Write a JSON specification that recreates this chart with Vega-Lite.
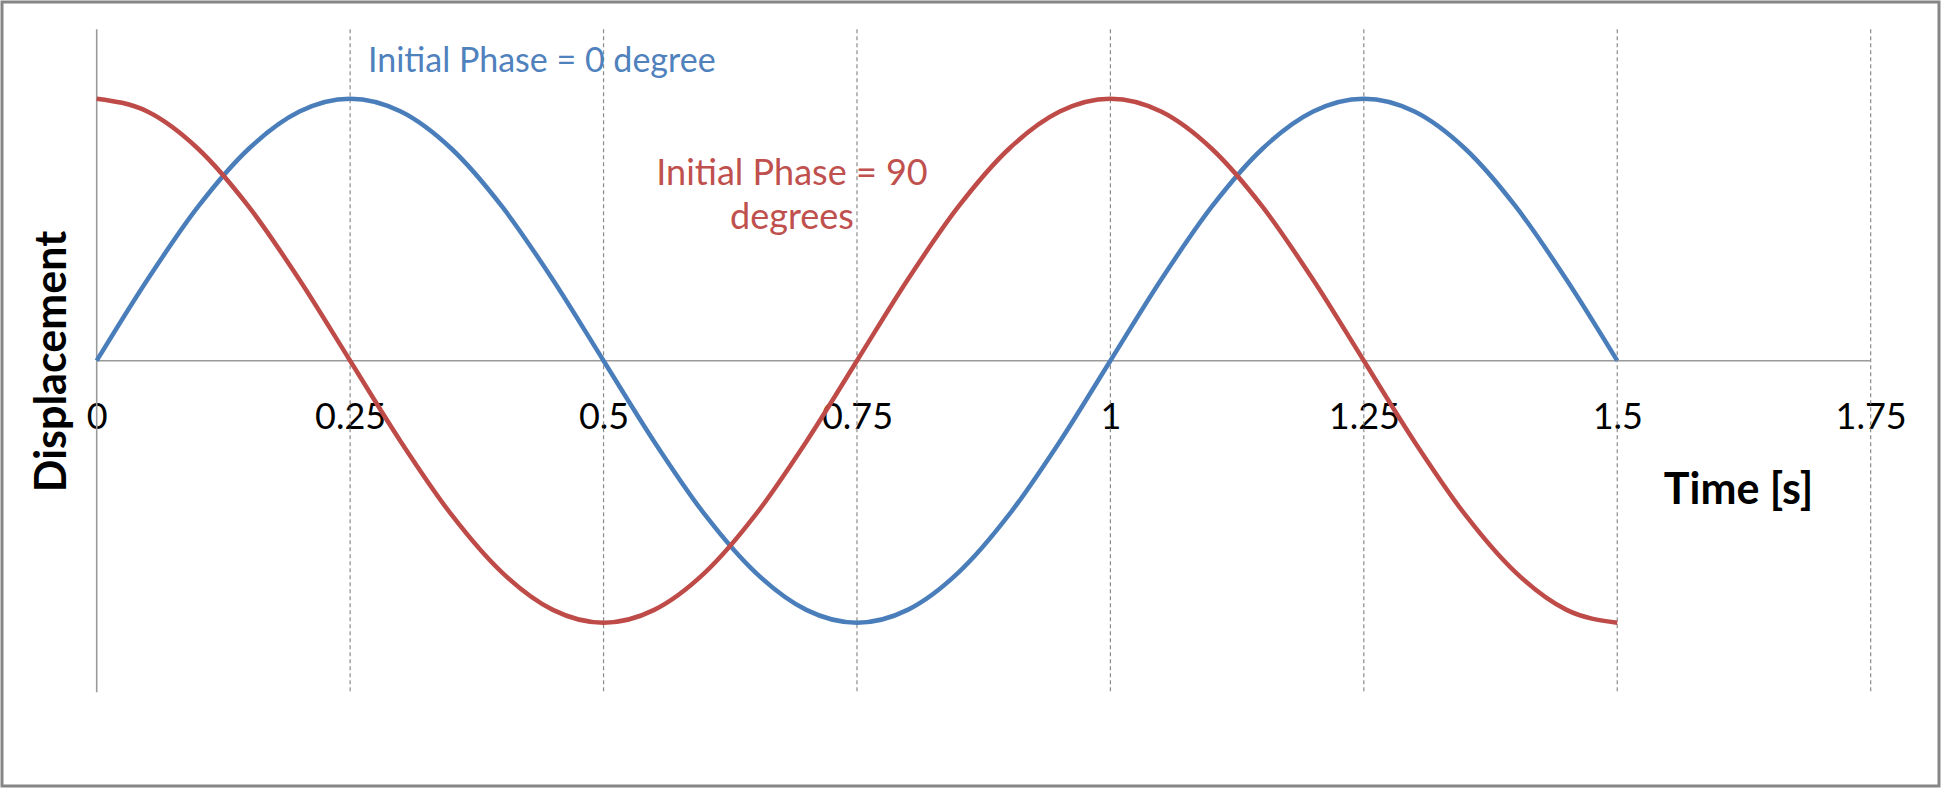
{
  "$schema": "https://vega.github.io/schema/vega-lite/v6.json",
  "width": 1937,
  "height": 784,
  "autosize": "none",
  "padding": {"left": 2, "top": 2, "right": 2, "bottom": 3},
  "background": "white",
  "config": {"view": {"stroke": "#868686", "strokeWidth": 3}, "font": "Lato"},
  "datasets": {
    "grid": [{"t": 0.25}, {"t": 0.5}, {"t": 0.75}, {"t": 1}, {"t": 1.25}, {"t": 1.5}, {"t": 1.75}],
    "waves": [
      {"t": 0, "y": 0, "series": "sin"}, {"t": 0.05, "y": 0.309, "series": "sin"}, {"t": 0.1, "y": 0.5878, "series": "sin"}, {"t": 0.15, "y": 0.809, "series": "sin"}, {"t": 0.2, "y": 0.9511, "series": "sin"}, {"t": 0.25, "y": 1, "series": "sin"}, {"t": 0.3, "y": 0.9511, "series": "sin"}, {"t": 0.35, "y": 0.809, "series": "sin"}, {"t": 0.4, "y": 0.5878, "series": "sin"}, {"t": 0.45, "y": 0.309, "series": "sin"}, {"t": 0.5, "y": 0, "series": "sin"},
      {"t": 0.55, "y": -0.309, "series": "sin"}, {"t": 0.6, "y": -0.5878, "series": "sin"}, {"t": 0.65, "y": -0.809, "series": "sin"}, {"t": 0.7, "y": -0.9511, "series": "sin"}, {"t": 0.75, "y": -1, "series": "sin"}, {"t": 0.8, "y": -0.9511, "series": "sin"}, {"t": 0.85, "y": -0.809, "series": "sin"}, {"t": 0.9, "y": -0.5878, "series": "sin"}, {"t": 0.95, "y": -0.309, "series": "sin"}, {"t": 1.0, "y": 0, "series": "sin"},
      {"t": 1.05, "y": 0.309, "series": "sin"}, {"t": 1.1, "y": 0.5878, "series": "sin"}, {"t": 1.15, "y": 0.809, "series": "sin"}, {"t": 1.2, "y": 0.9511, "series": "sin"}, {"t": 1.25, "y": 1, "series": "sin"}, {"t": 1.3, "y": 0.9511, "series": "sin"}, {"t": 1.35, "y": 0.809, "series": "sin"}, {"t": 1.4, "y": 0.5878, "series": "sin"}, {"t": 1.45, "y": 0.309, "series": "sin"}, {"t": 1.5, "y": 0, "series": "sin"},
      {"t": 0, "y": 1, "series": "cos"}, {"t": 0.05, "y": 0.9511, "series": "cos"}, {"t": 0.1, "y": 0.809, "series": "cos"}, {"t": 0.15, "y": 0.5878, "series": "cos"}, {"t": 0.2, "y": 0.309, "series": "cos"}, {"t": 0.25, "y": 0, "series": "cos"}, {"t": 0.3, "y": -0.309, "series": "cos"}, {"t": 0.35, "y": -0.5878, "series": "cos"}, {"t": 0.4, "y": -0.809, "series": "cos"}, {"t": 0.45, "y": -0.9511, "series": "cos"}, {"t": 0.5, "y": -1, "series": "cos"},
      {"t": 0.55, "y": -0.9511, "series": "cos"}, {"t": 0.6, "y": -0.809, "series": "cos"}, {"t": 0.65, "y": -0.5878, "series": "cos"}, {"t": 0.7, "y": -0.309, "series": "cos"}, {"t": 0.75, "y": 0, "series": "cos"}, {"t": 0.8, "y": 0.309, "series": "cos"}, {"t": 0.85, "y": 0.5878, "series": "cos"}, {"t": 0.9, "y": 0.809, "series": "cos"}, {"t": 0.95, "y": 0.9511, "series": "cos"}, {"t": 1.0, "y": 1, "series": "cos"},
      {"t": 1.05, "y": 0.9511, "series": "cos"}, {"t": 1.1, "y": 0.809, "series": "cos"}, {"t": 1.15, "y": 0.5878, "series": "cos"}, {"t": 1.2, "y": 0.309, "series": "cos"}, {"t": 1.25, "y": 0, "series": "cos"}, {"t": 1.3, "y": -0.309, "series": "cos"}, {"t": 1.35, "y": -0.5878, "series": "cos"}, {"t": 1.4, "y": -0.809, "series": "cos"}, {"t": 1.45, "y": -0.9511, "series": "cos"}, {"t": 1.5, "y": -1, "series": "cos"}
    ]
  },
  "layer": [
    {
      "data": {"name": "grid"},
      "mark": {"type": "rule", "color": "#8c8c8c", "strokeWidth": 1.2, "strokeDash": [4, 3]},
      "encoding": {
        "x": {
          "field": "t", "type": "quantitative",
          "scale": {"domain": [-0.09342, 1.8174], "nice": false, "zero": false},
          "axis": {
            "values": [0, 0.25, 0.5, 0.75, 1, 1.25, 1.5, 1.75],
            "format": "~g",
            "domain": false, "ticks": false, "tickSize": 0, "grid": false,
            "labelFont": "Lato", "labelFontSize": 36, "labelColor": "#000000",
            "labelPadding": 68, "labelBaseline": "alphabetic",
            "labelFlush": false, "labelOverlap": false,
            "offset": -425.3,
            "title": "Time [s]", "titleFont": "Lato", "titleFontWeight": "bold",
            "titleFontSize": 43, "titleColor": "#000000",
            "titleX": 1736, "titleY": 143, "titleAlign": "center", "titleBaseline": "alphabetic"
          }
        },
        "y": {
          "datum": 1.265, "type": "quantitative",
          "scale": {"domain": [-1.6233, 1.3691], "nice": false, "zero": false},
          "axis": {
            "domain": false, "ticks": false, "labels": false, "grid": false,
            "title": "Displacement", "titleFont": "Lato", "titleFontWeight": "bold",
            "titleFontSize": 43, "titleColor": "#000000", "titleAngle": -90,
            "titleX": 63, "titleY": 359, "titleAlign": "center", "titleBaseline": "alphabetic"
          }
        },
        "y2": {"datum": -1.265}
      }
    },
    {
      "data": {"values": [{}]},
      "mark": {"type": "rule", "color": "#9a9a9a", "strokeWidth": 1.6},
      "encoding": {
        "x": {"datum": 0, "type": "quantitative"},
        "y": {"datum": 1.265, "type": "quantitative"},
        "y2": {"datum": -1.265}
      }
    },
    {
      "data": {"values": [{}]},
      "mark": {"type": "rule", "color": "#9a9a9a", "strokeWidth": 1.6},
      "encoding": {
        "x": {"datum": 0, "type": "quantitative"},
        "x2": {"datum": 1.75},
        "y": {"datum": 0, "type": "quantitative"}
      }
    },
    {
      "data": {"name": "waves"},
      "mark": {"type": "line", "interpolate": "monotone", "strokeWidth": 4.5},
      "encoding": {
        "x": {"field": "t", "type": "quantitative"},
        "y": {"field": "y", "type": "quantitative"},
        "color": {
          "field": "series", "type": "nominal",
          "scale": {"domain": ["sin", "cos"], "range": ["#4A7EBB", "#BE4B48"]},
          "legend": null
        }
      }
    },
    {
      "data": {"values": [{}]},
      "mark": {"type": "text", "text": "Initial Phase = 0 degree", "align": "left", "baseline": "alphabetic", "font": "Lato", "fontSize": 34, "color": "#4F81BD"},
      "encoding": {
        "x": {"datum": 0.2676, "type": "quantitative"},
        "y": {"datum": 1.1038, "type": "quantitative"}
      }
    },
    {
      "data": {"values": [{}]},
      "mark": {"type": "text", "text": ["Initial Phase = 90", "degrees"], "lineHeight": 44, "align": "center", "baseline": "alphabetic", "font": "Lato", "fontSize": 36, "color": "#C0504D"},
      "encoding": {
        "x": {"datum": 0.6859, "type": "quantitative"},
        "y": {"datum": 0.6706, "type": "quantitative"}
      }
    }
  ]
}
